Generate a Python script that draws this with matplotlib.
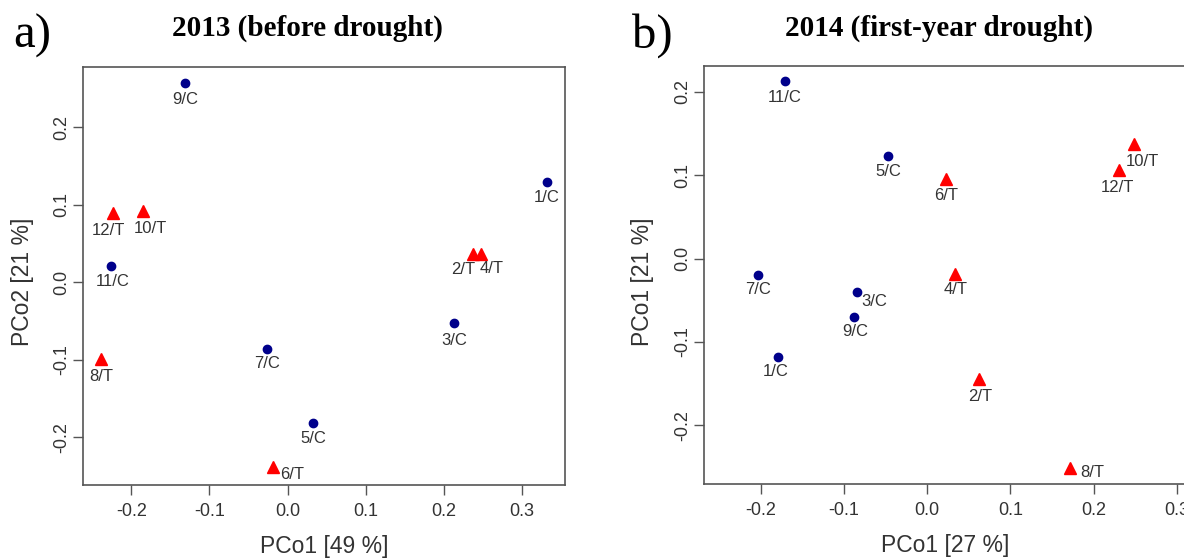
import matplotlib.pyplot as plt

plt.rcParams['font.family'] = ['Liberation Sans', 'DejaVu Sans']
plt.rcParams['axes.unicode_minus'] = False

NAVY = "#00008b"
RED = "#ff0000"
TXT = "#333333"
AX = "#555555"

# 2013 (before drought)
labels_a = ["9/C", "1/C", "12/T", "10/T", "2/T", "4/T", "11/C", "3/C", "7/C", "8/T", "5/C", "6/T"]
x_a = [-0.131, 0.332, -0.224, -0.185, 0.237, 0.248, -0.226, 0.213, -0.026, -0.239, 0.033, -0.018]
y_a = [0.257, 0.129, 0.089, 0.092, 0.037, 0.037, 0.021, -0.0525, -0.0857, -0.0995, -0.182, -0.238]

# 2014 (first-year drought)
labels_b = ["11/C", "5/C", "6/T", "10/T", "12/T", "4/T", "7/C", "3/C", "9/C", "1/C", "2/T", "8/T"]
x_b = [-0.171, -0.047, 0.0233, 0.248, 0.231, 0.034, -0.203, -0.0848, -0.0874, -0.179, 0.062, 0.172]
y_b = [0.2125, 0.123, 0.096, 0.138, 0.106, -0.018, -0.0193, -0.040, -0.0706, -0.118, -0.145, -0.251]

# label offsets in pixels (dx right, dy down)
off_a = [(0, 16), (0, 15), (-4, 17), (7, 17), (-9, 16), (11, 15), (2, 15), (0, 17), (0, 15), (0, 17), (0, 15), (19, 8)]
off_b = [(0, 16), (0, 16), (0, 17), (9, 18), (-2, 17), (0, 16), (0, 15), (18, 10), (1, 14), (-2, 15), (1, 17), (22, 5)]

fig = plt.figure(figsize=(11.84, 5.58), dpi=100)


def panel(rect, xs, ys, labels, offs, xlim, ylim, title, letter, xlabel, ylabel, title_x, letter_x):
    ax = fig.add_axes(rect)
    for x, y, lab, (dx, dy) in zip(xs, ys, labels, offs):
        if lab.endswith("T"):
            ax.plot(x, y, marker="^", color=RED, markersize=8.5, linestyle="none")
        else:
            ax.plot(x, y, marker="o", color=NAVY, markersize=6, linestyle="none")
        ax.annotate(lab, (x, y), xytext=(dx * 0.72, -dy * 0.72), textcoords="offset points",
                    ha="center", va="center", fontsize=12, color=TXT)
    ax.set_xlim(*xlim)
    ax.set_ylim(*ylim)
    ax.set_xticks([-0.2, -0.1, 0.0, 0.1, 0.2, 0.3])
    ax.set_yticks([-0.2, -0.1, 0.0, 0.1, 0.2])
    ax.tick_params(direction="out", length=7, width=1, colors=AX, labelcolor=TXT,
                   labelsize=13)
    ax.tick_params(axis="x", pad=6)
    ax.tick_params(axis="y", pad=2)
    for lbl in ax.get_yticklabels():
        lbl.set_rotation(90)
        lbl.set_va("center")
    for s in ax.spines.values():
        s.set_color(AX)
        s.set_linewidth(1.2)
    ax.set_xlabel(xlabel, fontsize=16.5, color=TXT)
    ax.set_ylabel(ylabel, fontsize=16.5, color=TXT)
    ax.xaxis.set_label_coords(0.5, -0.147)
    ax.xaxis.label.set_va("center")
    ax.yaxis.label.set_va("center")
    fig.text(title_x, 1 - 28 / 558, title, family="Liberation Serif", weight="bold",
             fontsize=21, ha="center", va="center", color="black")
    fig.text(letter_x, 1 - 48 / 558, letter, family="Liberation Serif", fontsize=35,
             ha="left", va="baseline", color="black")
    return ax


ax1 = panel([83 / 1184, 1 - 485 / 558, 482 / 1184, 418 / 558], x_a, y_a, labels_a, off_a,
            (-0.262, 0.3555), (-0.2615, 0.2778), "2013 (before drought)", "a)",
            "PCo1 [49 %]", "PCo2 [21 %]", 307 / 1184, 13 / 1184)
ax1.yaxis.set_label_coords(-(83 - 22) / 482, 0.485)

ax2 = panel([704 / 1184, 1 - 484 / 558, 482 / 1184, 418 / 558], x_b, y_b, labels_b, off_b,
            (-0.268, 0.311), (-0.2706, 0.231), "2014 (first-year drought)", "b)",
            "PCo1 [27 %]", "PCo1 [21 %]", 939 / 1184, 632 / 1184)
ax2.yaxis.set_label_coords(-(704 - 643) / 482, 0.485)

fig.savefig("out.png", dpi=100)
